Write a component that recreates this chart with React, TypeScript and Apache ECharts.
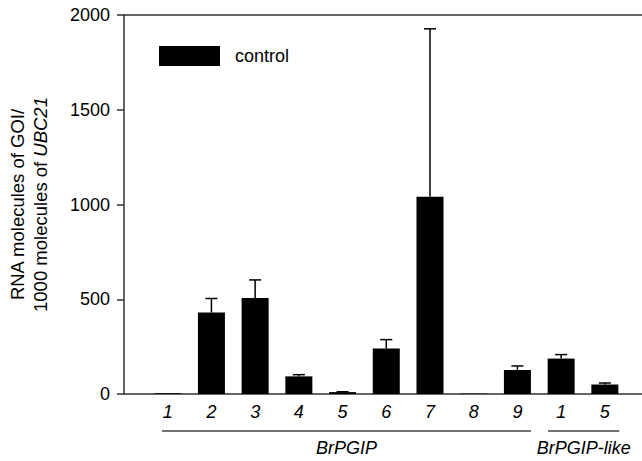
import React, { useEffect, useRef } from "react";
import * as echarts from "echarts";

const categories = ["1", "2", "3", "4", "5", "6", "7", "8", "9", "1", "5"];
const controlMeans = [4, 430, 507, 93, 10, 240, 1041, 2, 127, 187, 50];
const controlErrors = [0, 74, 95, 9, 2, 47, 886, 0, 21, 21, 8];
const groupNames = ["BrPGIP", "BrPGIP-like"];
const groupFrom = [0.87, 9.7];
const groupTo = [9.31, 11.33];

const FONT = "Liberation Sans, Arial, sans-serif";
const FS = 18;

export default function App() {
  const ref = useRef<HTMLDivElement>(null);
  useEffect(() => {
    if (!ref.current) return;
    const chart = echarts.init(ref.current, undefined, { renderer: "svg" });
    const xMax = 11.85;
    chart.setOption({
      animation: false,
      backgroundColor: "#fff",
      textStyle: { fontFamily: FONT },
      grid: { left: 124, right: 0, top: 15, bottom: 67 },
      legend: {
        data: ["control"],
        left: 154,
        top: 41,
        itemWidth: 61,
        itemHeight: 20,
        icon: "rect",
        textStyle: { fontSize: FS, color: "#000", fontFamily: FONT, padding: [0, 0, 0, 10] },
      },
      xAxis: [
        {
          type: "value",
          min: 0,
          max: xMax,
          interval: 1,
          position: "bottom",
          axisLine: { show: true, lineStyle: { color: "#333", width: 1.5 } },
          axisTick: { show: false },
          splitLine: { show: false },
          axisLabel: {
            margin: 9,
            fontSize: FS,
            fontStyle: "italic",
            color: "#000",
            fontFamily: FONT,
            showMaxLabel: false,
            formatter: (v: number) =>
              Number.isInteger(v) && v >= 1 && v <= categories.length ? categories[v - 1] : "",
          },
        },
        {
          type: "value",
          min: 0,
          max: xMax,
          position: "top",
          axisLine: { show: true, lineStyle: { color: "#333", width: 1.5 } },
          axisTick: { show: false },
          axisLabel: { show: false },
          splitLine: { show: false },
        },
      ],
      yAxis: {
        type: "value",
        min: 0,
        max: 2000,
        interval: 500,
        axisLine: { show: true, lineStyle: { color: "#333", width: 1.5 } },
        axisTick: { show: true, length: 7, lineStyle: { color: "#333", width: 1.5 } },
        splitLine: { show: false },
        axisLabel: {
          margin: 14,
          fontSize: FS,
          color: "#000",
          fontFamily: FONT,
          formatter: (v: number) => String(v),
        },
        name: "{a|RNA molecules of GOI/}\n{a|1000 molecules of }{b|UBC21}",
        nameLocation: "middle",
        nameRotate: 90,
        nameGap: 72,
        nameTextStyle: {
          rich: {
            a: { fontSize: 18.5, lineHeight: 23, color: "#000", fontFamily: FONT },
            b: { fontSize: 18.5, lineHeight: 23, color: "#000", fontStyle: "italic", fontFamily: FONT },
          },
        },
      },
      series: [
        {
          name: "control",
          type: "bar",
          barWidth: 27,
          itemStyle: { color: "#000" },
          data: controlMeans.map((v, i) => [i + 1, v]),
        },
        {
          type: "custom",
          silent: true,
          clip: false,
          data: controlMeans.map((v, i) => [i + 1, v, controlErrors[i]]),
          renderItem: (params: any, api: any) => {
            const x = api.value(0);
            const m = api.value(1);
            const e = api.value(2);
            if (!e) return { type: "group", children: [] };
            const base = api.coord([x, m]);
            const top = api.coord([x, m + e]);
            const hw = 6;
            const style = { stroke: "#000", lineWidth: 1.5 };
            return {
              type: "group",
              children: [
                { type: "line", shape: { x1: base[0], y1: base[1], x2: top[0], y2: top[1] }, style },
                { type: "line", shape: { x1: top[0] - hw, y1: top[1], x2: top[0] + hw, y2: top[1] }, style },
              ],
            };
          },
        },
        {
          type: "custom",
          silent: true,
          clip: false,
          data: groupFrom.map((f, i) => [f, groupTo[i]]),
          renderItem: (params: any, api: any) => {
            const p1 = api.coord([api.value(0), 0]);
            const p2 = api.coord([api.value(1), 0]);
            const y = p1[1] + 37;
            return {
              type: "group",
              children: [
                {
                  type: "line",
                  shape: { x1: p1[0], y1: y, x2: p2[0], y2: y },
                  style: { stroke: "#444", lineWidth: 1.5 },
                },
                {
                  type: "text",
                  x: (p1[0] + p2[0]) / 2,
                  y: y + 17,
                  style: {
                    text: groupNames[params.dataIndex],
                    fill: "#000",
                    font: `italic ${FS}px ${FONT}`,
                    align: "center",
                    verticalAlign: "middle",
                  },
                },
              ],
            };
          },
        },
      ],
    });
    return () => chart.dispose();
  }, []);
  return <div ref={ref} style={{ position: "fixed", left: 0, top: 0, width: 642, height: 461 }} />;
}
